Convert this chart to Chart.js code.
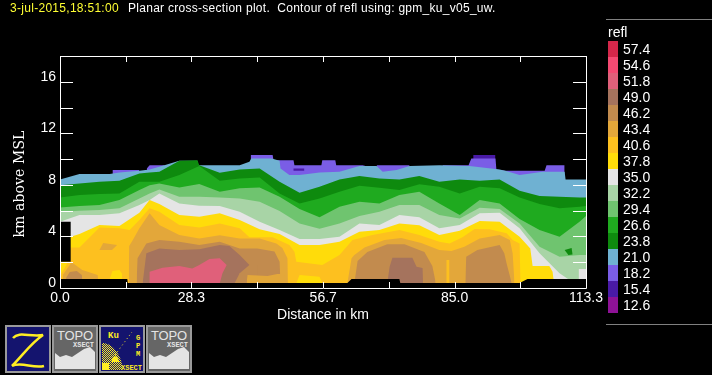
<!DOCTYPE html>
<html>
<head>
<meta charset="utf-8">
<script src="https://cdn.jsdelivr.net/npm/chart.js@4/dist/chart.umd.min.js"></script>
<style>
html, body { margin: 0; padding: 0; background: #000; width: 712px; height: 375px; overflow: hidden; }
body { position: relative; font-family: "Liberation Sans", sans-serif; color: #fff; }
canvas { position: absolute; left: 0; top: 0; }
.t { position: absolute; white-space: pre; }
.rule { position: absolute; left: 606px; width: 106px; height: 1px; background: #808080; }
.box { position: absolute; left: 608px; width: 10px; height: 16px; }
.icon { position: absolute; top: 325px; width: 46px; height: 48px; }
#ytitle { left: 19px; top: 184px; font: bold 14px "DejaVu Serif", serif; letter-spacing: 0.1px; transform: translate(-50%, -50%) rotate(-90deg); }
</style>
</head>
<body>
<canvas id="chart" width="712" height="325"></canvas>
<div class="t" style="left:10px;top:1px;font-size:12px;letter-spacing:0.29px;color:#ffff33">3-jul-2015,18:51:00</div>
<div class="t" style="left:128px;top:1px;font-size:12px;letter-spacing:0.28px">Planar cross-section plot.  Contour of refl using: gpm_ku_v05_uw.</div>
<div class="t" id="ytitle" style="font-weight:normal">km above MSL</div>
<div class="rule" style="top:19px"></div>
<div class="rule" style="top:324px"></div>
<div class="t" style="left:608px;top:24px;font-size:14px">refl</div>
<div id="legend"></div>

<svg width="0" height="0" style="position:absolute">
  <defs>
    <pattern id="dots" width="2" height="2" patternUnits="userSpaceOnUse">
      <rect width="1" height="1" fill="#ffee22"/><rect x="1" y="1" width="1" height="1" fill="#ffee22"/>
    </pattern>
  </defs>
</svg>
<svg class="icon" style="left:5px" viewBox="0 0 46 48">
  <rect x="1" y="1" width="44" height="46" fill="#14146e" stroke="#9a9a9a" stroke-width="2"/>
  <path d="M8 13 C14 6 24 12 38 10 C26 18 18 30 7 41 C16 36 28 44 39 41" fill="none" stroke="#ffee22" stroke-width="2.5"/>
</svg>
<svg class="icon" style="left:52px" viewBox="0 0 46 48">
  <rect x="1" y="1" width="44" height="46" fill="#666" stroke="#9a9a9a" stroke-width="2"/>
  <path d="M3 44 L3 28 L8 32 L14 30 L20 32 L26 28 L32 24 L38 22 L43 27 L43 44 Z" fill="#e4e4e4"/>
  <text x="5" y="15" font-size="13" textLength="36" fill="#e4e4e4" font-family="Liberation Sans">TOPO</text>
  <text x="21" y="22" font-size="7" font-weight="bold" fill="#e4e4e4" font-family="Liberation Mono">XSECT</text>
</svg>
<svg class="icon" style="left:99px" viewBox="0 0 46 48">
  <rect x="1" y="1" width="44" height="46" fill="#14146e" stroke="#9a9a9a" stroke-width="2"/>
  <path d="M3 45 L3 18 C13 18 22 28 24 45 Z" fill="url(#dots)"/>
  <path d="M14 32 C17 30 19 32 20 37 L12 37 Z" fill="#ffee22"/>
  <path d="M3 45 L3 38 L10 38 L10 45 Z" fill="#ffee22"/>
  <path d="M16 30 L33 7" stroke="#ffee22" stroke-width="1" stroke-dasharray="1 3"/>
  <text x="9" y="13" font-size="9" font-weight="bold" fill="#ffee22" font-family="Liberation Mono">Ku</text>
  <text x="37" y="15" font-size="7" font-weight="bold" fill="#ffee22" font-family="Liberation Mono">G</text>
  <text x="37" y="23" font-size="7" font-weight="bold" fill="#ffee22" font-family="Liberation Mono">P</text>
  <text x="37" y="31" font-size="7" font-weight="bold" fill="#ffee22" font-family="Liberation Mono">M</text>
  <text x="22" y="45" font-size="7" font-weight="bold" fill="#ffee22" font-family="Liberation Mono">XSECT</text>
</svg>
<svg class="icon" style="left:146px" viewBox="0 0 46 48">
  <rect x="1" y="1" width="44" height="46" fill="#666" stroke="#9a9a9a" stroke-width="2"/>
  <path d="M3 44 L3 28 L8 32 L14 30 L20 32 L26 28 L32 24 L38 22 L43 27 L43 44 Z" fill="#e4e4e4"/>
  <text x="5" y="15" font-size="13" textLength="36" fill="#e4e4e4" font-family="Liberation Sans">TOPO</text>
  <text x="21" y="22" font-size="7" font-weight="bold" fill="#e4e4e4" font-family="Liberation Mono">XSECT</text>
</svg>

<script>
const levels = ['57.4', '54.6', '51.8', '49.0', '46.2', '43.4', '40.6', '37.8', '35.0', '32.2', '29.4', '26.6', '23.8', '21.0', '18.2', '15.4', '12.6'];
const levelColors = ['#d4274a', '#f44a72', '#e0607a', '#a5735d', '#c28b4e', '#e3a73a', '#fdc01f', '#ffdc0a', '#e5e5e5', '#a8d4a6', '#6fc46f', '#1faa1f', '#0e8a0e', '#6fb1d2', '#7a5de6', '#491aa6', '#8e1296'];
const colorOf = (level) => levelColors[levels.indexOf(level)];

const xTicks = [0, 14.2, 28.3, 42.5, 56.7, 70.8, 85, 99.1, 113.3];
const xTickLabels = ['0.0', '', '28.3', '', '56.7', '', '85.0', '', '113.3'];
const yTickLabels = { 0: '0', 4: '4', 8: '8', 12: '12', 16: '16' };

// top of each contour band, km
const distGrid = [0, 4.2, 8.5, 12.8, 17.1, 19.3, 21.4, 25.7, 30, 34.4, 38.7, 43, 47.3, 51.6, 55.9, 60.2, 64.5, 68.8, 73.1, 77.4, 81.7, 86.1, 90.4, 94.7, 99, 103.3, 107.6, 111.9, 113.3];

const dist154 = [89, 93.8];
const top154 = [10.31, 10.31];

const dist182 = [11.3, 17.1, 17.3, 18.7, 19.3, 22.4, 23, 24, 41, 41.1, 45.8, 46, 50.3, 50.5, 56.3, 56.5, 59.3, 59.5, 65.2, 65.8, 66.5, 68.2, 75.3, 75.6, 82.4, 88, 88.6, 93.8, 94, 95.9, 104.4, 104.8, 108.7, 108.9];
const top182 = [9.15, 9.15, null, 9.28, 9.53, 9.53, 9.41, null, 9.53, 10.31, 10.31, 9.92, 9.92, 9.53, 9.53, 9.92, 9.92, 9.53, 9.53, 9.46, null, 9.53, 9.53, null, 9.53, 9.53, 10.05, 10.05, 9.2, 9.1, 9.1, 9.53, 9.53, null];

const dist210 = [0, 4.2, 10.7, 12.8, 17.1, 19.3, 21.4, 25.7, 29.6, 29.8, 34.4, 38.7, 40.8, 41.2, 45.6, 47.3, 47.5, 49.4, 51.6, 55.9, 60.2, 64.5, 68.2, 69.5, 72.5, 75.3, 81.7, 88.2, 94.7, 95.9, 99, 104, 108.7, 108.9, 113.3];
const top210 = [8.42, 8.84, 8.84, 8.97, 9.1, 9.2, 9.41, 9.87, 9.87, 9.53, 9.53, 9.53, 9.79, 10.05, 10.05, 9.87, 9.28, 8.76, 8.76, 8.97, 9.02, 9.46, 9.46, 9.02, 9.15, 9.46, 9.53, 9.46, 9.2, 9.1, 8.76, 9.02, 9.02, 8.42, 8.42];

const dist238 = [0, 4.2, 8.5, 12.8, 17.1, 19.3, 21.4, 25.7, 29.6, 30, 34.4, 38.7, 43, 47.3, 51.6, 55.9, 60.2, 64.5, 68.8, 73.1, 77.4, 81.7, 86.1, 90.4, 94.7, 99, 103.3, 107.6, 111.9, 113.3];
const top238 = [7.98, 8.11, 8.24, 8.32, 8.89, 8.97, 9.02, 9.87, 9.92, 9.53, 8.94, 9.2, 9.28, 8.24, 7.39, 7.86, 8.42, 8.68, 8.5, 8.42, 8.68, 8.24, 8.42, 8.32, 8.42, 7.55, 7.13, 7.08, 7.03, 7.03];

const top266 = [7.03, 7.21, 7.29, 7.34, 8.24, 8.24, 8.24, 8.76, 9.46, 8.32, 8.5, 8.58, 7.34, 6.56, 6.95, 7.47, 7.93, 7.77, 7.6, 8.04, 7.86, 7.34, 7.86, 7.73, 7.03, 6.51, 6.18, 6.3, 6.36];
const top294 = [6.25, 6.36, 6.43, 6.82, 7.6, 7.98, 8.11, 7.8, 8.06, 7.47, 7.73, 7.8, 7.08, 6.12, 5.48, 6.3, 6.69, 6.56, 7.21, 7.47, 6.56, 5.66, 6.82, 6.56, 5.35, 4.5, 3.98, 5.14, 5.58];
const top322 = [5.92, 5.99, 6.05, 6.18, 6.95, 7.34, 7.65, 7.08, 7.08, 7.03, 6.95, 6.69, 5.97, 5.01, 4.6, 5.01, 5.58, 5.92, 6.43, 6.43, 5.66, 5.4, 6.23, 6.12, 5.01, 3.2, 2.43, 2.56, 2.56];
const top350 = [5.14, 5.66, 5.66, 5.79, 6.43, 6.82, 7.34, 6.56, 6.38, 6.36, 5.92, 5.14, 4.5, 3.8, 3.8, 3.98, 5.01, 4.88, 5.66, 5.48, 4.63, 4.88, 5.79, 5.84, 4.63, 2.69, 1.14, 0.1, 0.1];

const dist378 = [0, 4.2, 8.5, 12.8, 17.1, 19.3, 21.4, 25.7, 30, 34.4, 38.7, 43, 47.3, 51.6, 55.9, 60.2, 64.5, 68.8, 73.1, 77.4, 81.7, 86.1, 90.4, 94.7, 99, 101.3, 101.8, 105.4, 106.1, 106.5, 113.3];
const top378 = [3.72, 4.19, 4.88, 4.81, 5.84, 6.82, 6.51, 5.66, 5.53, 5.79, 5.27, 4.55, 4.19, 3.33, 3.33, 3.59, 4.37, 4.5, 5.01, 4.86, 4.11, 4.45, 5.19, 5.14, 3.98, 3.07, 1.71, 1.71, 1.27, 0.1, 0.1];

const dist406 = [0.1, 1.4, 2.3, 4.2, 8.5, 12.8, 15, 17.1, 19.3, 21.4, 25.7, 30, 34.4, 38.7, 40.8, 45.8, 49.4, 50.5, 50.9, 56.5, 60.2, 63, 67.3, 73.1, 77.4, 81.7, 83.9, 86.7, 89.3, 92.5, 96.2, 97.5, 99, 99.2, 113.3];
const top406 = [1.01, 1.78, 3.15, 3.15, 4.7, 4.63, 4.5, 5.27, 6.18, 5.92, 4.88, 4.7, 5.01, 4.63, 3.93, 3.93, 3.33, 2.82, 2.04, 1.78, 2.56, 3.72, 4.11, 4.5, 4.11, 3.59, 3.46, 3.93, 4.57, 4.55, 4.24, 3.72, 3.46, 0.1, 0.1];

const dist434 = [0.6, 2.5, 4.8, 8.1, 8.2, 8.6, 14.8, 14.9, 15.5, 17.1, 19.3, 21.4, 25.7, 30, 34.4, 38.7, 43, 46.6, 47.9, 49, 49.1, 51, 61.9, 62.8, 63.4, 65.6, 69.9, 73.5, 77.8, 81.7, 84.3, 87.1, 90.4, 94.7, 96.9, 97.5, 97.9, 98];
const top434 = [1.01, 2.0, 1.4, 1.01, 0.7, null, 0.36, 3.26, 3.6, 4.63, 5.79, 4.88, 4.11, 3.85, 4.1, 3.85, 3.85, 3.46, 3.1, 2.3, 0.36, null, 0.36, 2.3, 2.56, 3.15, 3.72, 3.87, 3.49, 2.95, 2.87, 3.2, 3.85, 4.11, 3.72, 2.69, 0.36, null];

const dist462 = [1.3, 2.1, 3.6, 4.7, 4.8, 5.2, 16.5, 16.7, 18.6, 21.4, 25.7, 30, 34.4, 38.7, 42.5, 46.2, 47.3, 47.5, 48, 63.4, 64.1, 66.2, 70.5, 74.2, 78.5, 80.2, 80.9, 81.5, 87.3, 87.5, 89.9, 94.7, 95.7, 96.2, 97.3, 97.6];
const top462 = [0.78, 1.24, 1.32, 1.01, 0.7, null, 0.36, 2.3, 3.46, 3.72, 3.59, 3.33, 3.59, 3.07, 3.07, 2.84, 2.04, 0.36, null, 0.36, 2.09, 2.79, 3.4, 3.4, 2.79, 1.71, 0.46, null, 0.36, 2.43, 2.95, 3.33, 2.69, 1.91, 0.36, null];

const dist490 = [17.8, 18.6, 21.4, 25.7, 30, 34.4, 36.5, 38.7, 40.8, 41, 41.2, 70.5, 71, 71.6, 75.9, 76.8, 78.1, 78.2, 78.5];
const top490 = [0.36, 2.69, 3.07, 2.95, 3.0, 3.33, 3.26, 2.56, 1.78, 0.36, null, 0.36, 1.65, 2.35, 2.35, 1.65, 1.55, 0.36, null];

// patches inside the bands, drawn after them
const distTanTail = [37.6, 38.7, 40.8, 42.5];
const topTanTail = [0.36, 1.14, 1.78, 1.78];
const distGoldFoot = [40.2, 40.4, 44.7, 46.8, 48.4, 48.5];
const topGoldFoot = [0.46, 1.01, 0.93, 1.08, 1.08, 0.36];
const distYellowFoot1 = [10.7, 11.3, 12.8, 13.4];
const topYellowFoot1 = [0.7, 1.32, 1.4, 1.09];
const distYellowFoot2 = [50.9, 51.6, 55.9, 56.5];
const topYellowFoot2 = [0.36, 1.01, 0.88, 0.36];
const distOrangeStrip = [83.2, 83.9];
const topOrangeStrip = [2.17, 2.17];
const distWhiteFoot = [111.7, 113.3];
const topWhiteFoot = [1.47, 1.47];

// closed outlines: [km along, km above MSL]
const goldIslandX = [8.5, 9.3, 12.3, 11.2];
const goldIslandY = [2.95, 3.49, 3.33, 2.95];
const pinkX = [19.3, 19.3, 22.1, 25.7, 28.5, 30, 32.2, 34.4, 35.9, 35, 34.4];
const pinkY = [0.36, 1.27, 1.58, 1.71, 1.52, 1.78, 2.25, 2.3, 1.78, 1.14, 0.36];
const green238IslandX = [108.7, 110.2, 110.4, 109.5];
const green238IslandY = [2.95, 3.1, 2.6, 2.56];
const violet154IslandX = [50.3, 52.6, 52.6, 50.3];
const violet154IslandY = [9.28, 9.28, 9.1, 9.1];
const holeX = [0, 2.3, 2.3, 0];
const holeY = [5.14, 5.14, 2.04, 2.04];

// nothing measured below this
const distGround = [0, 14.5, 14.6, 61.9, 62.8, 73.1, 73.3, 99, 100.7, 113.3];
const topGround = [0.7, 0.7, 0.39, 0.39, 0.7, 0.7, 0.39, 0.39, 0.7, 0.7];

const legend = document.getElementById('legend');
levels.forEach((level, i) => {
  const box = document.createElement('div');
  box.className = 'box';
  box.style.top = (41 + i * 16) + 'px';
  box.style.background = levelColors[i];
  legend.appendChild(box);
  const label = document.createElement('div');
  label.className = 't';
  label.style.left = '623px';
  label.style.top = (41 + i * 16) + 'px';
  label.style.fontSize = '14px';
  label.style.lineHeight = '16px';
  label.textContent = level;
  legend.appendChild(label);
});

function band(xs, ys, color, fill = 'origin') {
  return {
    data: xs.map((x, i) => ({ x, y: ys[i] })),
    showLine: true,
    fill,
    backgroundColor: color,
    borderWidth: 0,
    borderColor: color,
    pointRadius: 0,
    tension: 0
  };
}

// painter's order, weakest first
const painted = [
  band(dist154, top154, colorOf('15.4')),
  band(dist182, top182, colorOf('18.2')),
  band(violet154IslandX, violet154IslandY, colorOf('15.4'), 'shape'),
  band(dist210, top210, colorOf('21.0')),
  band(dist238, top238, colorOf('23.8')),
  band(distGrid, top266, colorOf('26.6')),
  band(distGrid, top294, colorOf('29.4')),
  band(green238IslandX, green238IslandY, colorOf('23.8'), 'shape'),
  band(distGrid, top322, colorOf('32.2')),
  band(distGrid, top350, colorOf('35.0')),
  band(distWhiteFoot, topWhiteFoot, colorOf('35.0')),
  band(dist378, top378, colorOf('37.8')),
  band(dist406, top406, colorOf('40.6')),
  band(distYellowFoot1, topYellowFoot1, colorOf('37.8')),
  band(distYellowFoot2, topYellowFoot2, colorOf('37.8')),
  band(dist434, top434, colorOf('43.4')),
  band(goldIslandX, goldIslandY, colorOf('43.4'), 'shape'),
  band(distOrangeStrip, topOrangeStrip, colorOf('40.6')),
  band(dist462, top462, colorOf('46.2')),
  band(dist490, top490, colorOf('49.0')),
  band(distTanTail, topTanTail, colorOf('46.2')),
  band(distGoldFoot, topGoldFoot, colorOf('43.4')),
  band(pinkX, pinkY, colorOf('51.8'), 'shape'),
  band(holeX, holeY, '#000', 'shape'),
  band(distGround, topGround, '#000')
];

const frame = {
  id: 'frame',
  afterDatasetsDraw(chart) {
    const { ctx, chartArea: a, scales } = chart;
    ctx.save();
    ctx.strokeStyle = '#fff';
    ctx.lineWidth = 1;
    ctx.beginPath();
    ctx.rect(Math.round(a.left) + 0.5, Math.round(a.top) + 0.5, Math.round(a.width), Math.round(a.height));
    scales.x.ticks.forEach((t) => {
      const x = Math.round(scales.x.getPixelForValue(t.value)) + 0.5;
      ctx.moveTo(x, a.top);
      ctx.lineTo(x, a.top + 6);
      ctx.moveTo(x, a.bottom);
      ctx.lineTo(x, a.bottom - 6);
    });
    scales.y.ticks.forEach((t) => {
      const y = Math.round(scales.y.getPixelForValue(t.value)) + 0.5;
      ctx.moveTo(a.left, y);
      ctx.lineTo(a.left + 13, y);
      ctx.moveTo(a.right, y);
      ctx.lineTo(a.right - 13, y);
    });
    ctx.stroke();
    ctx.restore();
  }
};

new Chart(document.getElementById('chart'), {
  type: 'scatter',
  plugins: [frame],
  data: { datasets: painted.slice().reverse() },
  options: {
    responsive: false,
    animation: false,
    events: [],
    layout: { padding: { top: 56, right: 126, left: 0, bottom: 1 } },
    plugins: { legend: { display: false }, tooltip: { enabled: false } },
    scales: {
      x: {
        type: 'linear',
        min: 0,
        max: 113.3,
        afterBuildTicks: (scale) => { scale.ticks = xTicks.map((value) => ({ value })); },
        afterFit: (scale) => { scale.height = 36; },
        grid: { display: false, drawTicks: false },
        border: { display: false },
        ticks: {
          color: '#fff',
          font: { family: 'Liberation Sans', size: 14 },
          autoSkip: false,
          maxRotation: 0,
          padding: 2,
          callback: (value, i) => xTickLabels[i]
        },
        title: {
          display: true,
          text: 'Distance in km',
          color: '#fff',
          font: { family: 'Liberation Sans', size: 14 },
          padding: 0
        }
      },
      y: {
        type: 'linear',
        min: 0,
        max: 18,
        afterFit: (scale) => { scale.width = 60; },
        grid: { display: false, drawTicks: false },
        border: { display: false },
        ticks: {
          stepSize: 2,
          color: '#fff',
          font: { family: 'Liberation Sans', size: 14 },
          padding: 4,
          labelOffset: -5,
          callback: (value) => yTickLabels[value] || ''
        }
      }
    }
  }
});
</script>
</body>
</html>
